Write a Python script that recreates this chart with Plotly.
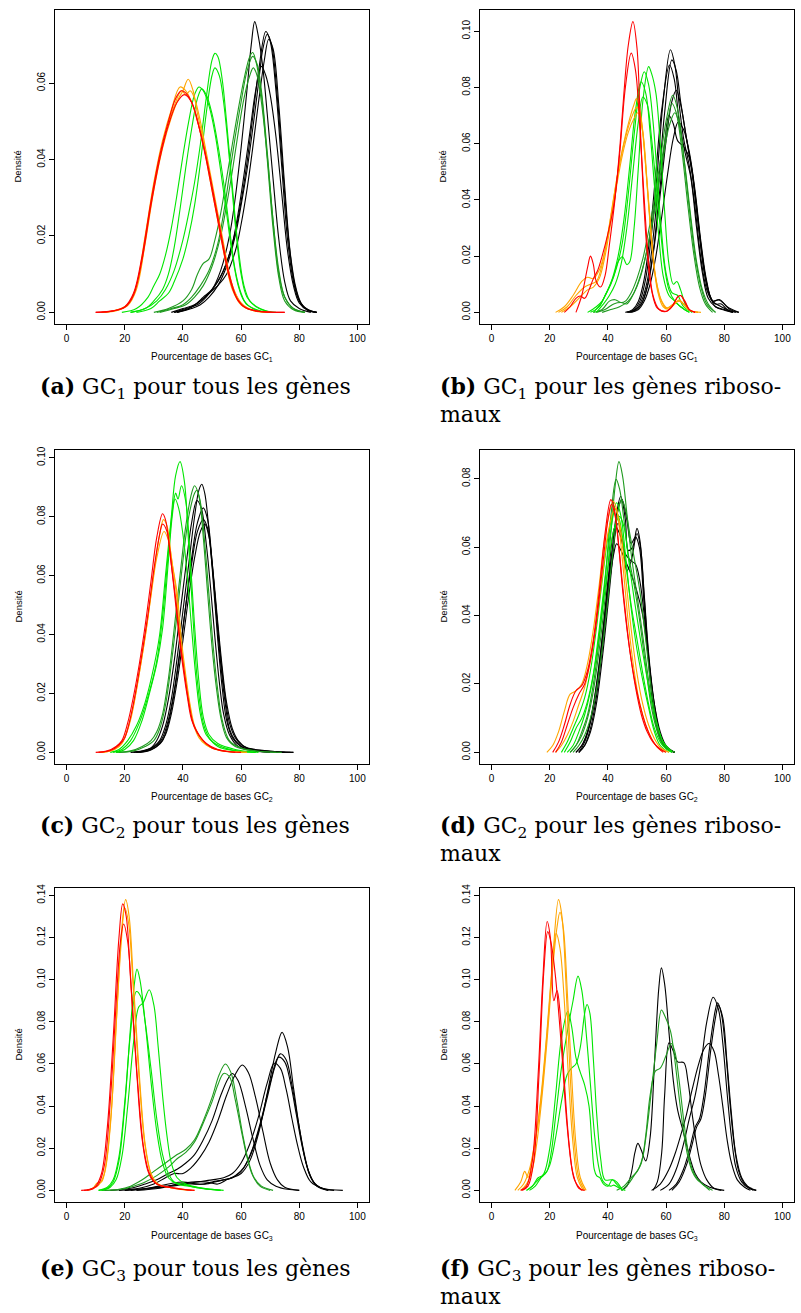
import plotly.graph_objects as go

# density curves, as (x, density) key points
# panel (a) GC1, all genes
A_BLACK = [
    [(36, 0), (40, 0.001), (44, 0.002), (47, 0.004), (50, 0.006), (53, 0.011), (56, 0.020), (58, 0.030), (60, 0.043), (62, 0.058), (63.5, 0.070), (64.7, 0.0761), (66, 0.072), (67.5, 0.064), (69, 0.052), (71, 0.035), (73, 0.019), (75, 0.008), (77, 0.003), (80, 0.001), (84, 0)],
    [(38, 0), (42, 0.001), (46, 0.003), (49, 0.005), (52, 0.008), (55, 0.013), (58, 0.021), (60, 0.029), (62, 0.039), (64, 0.051), (66, 0.063), (68.5, 0.0735), (70, 0.071), (72, 0.058), (74, 0.038), (76, 0.019), (78, 0.008), (80, 0.003), (83, 0.0006), (86, 0)],
    [(38, 0), (43, 0.001), (46, 0.002), (49, 0.004), (52, 0.007), (55, 0.012), (58, 0.020), (60, 0.028), (62, 0.037), (64, 0.048), (66, 0.060), (67.5, 0.069), (69, 0.0728), (70.5, 0.070), (72.5, 0.056), (74.5, 0.036), (76.5, 0.018), (78.5, 0.007), (80.5, 0.0025), (83, 0.0006), (86, 0)],
    [(37, 0), (42, 0.001), (46, 0.003), (49, 0.005), (52, 0.007), (55, 0.010), (58, 0.016), (60, 0.023), (62, 0.032), (64, 0.043), (66, 0.055), (68, 0.066), (69.5, 0.0715), (71, 0.069), (73, 0.054), (75, 0.033), (77, 0.015), (79, 0.006), (81, 0.002), (84, 0.0004), (86, 0)],
    [(37, 0), (41, 0.001), (45, 0.002), (48, 0.004), (51, 0.007), (54, 0.011), (57, 0.018), (59, 0.026), (61, 0.036), (63, 0.047), (65, 0.058), (67, 0.0644), (68.5, 0.062), (70, 0.057), (72, 0.046), (74, 0.031), (76, 0.016), (78, 0.007), (80, 0.0025), (83, 0.0005), (86, 0)],
]
A_DKGREEN = [
    [(30, 0), (35, 0.001), (40, 0.003), (43, 0.006), (45, 0.010), (47, 0.0128), (49, 0.014), (51, 0.019), (53, 0.026), (55, 0.035), (57, 0.044), (59, 0.053), (61, 0.061), (63, 0.067), (64, 0.068), (65, 0.066), (67, 0.057), (69, 0.040), (71, 0.022), (73, 0.009), (75, 0.003), (78, 0.0007), (82, 0)],
    [(31, 0), (36, 0.001), (40, 0.002), (43, 0.004), (46, 0.007), (49, 0.011), (52, 0.018), (54, 0.026), (56, 0.036), (58, 0.046), (60, 0.055), (62, 0.063), (64, 0.067), (65.5, 0.065), (67, 0.058), (69, 0.042), (71, 0.024), (73, 0.010), (75, 0.004), (78, 0.001), (82, 0)],
    [(32, 0), (37, 0.001), (41, 0.002), (44, 0.004), (47, 0.007), (50, 0.012), (53, 0.020), (55, 0.028), (57, 0.037), (59, 0.047), (61, 0.056), (63, 0.062), (64.2, 0.064), (65.5, 0.062), (67, 0.055), (69, 0.041), (71, 0.024), (73, 0.011), (75, 0.004), (78, 0.001), (82, 0)],
]
A_LIME = [
    [(19, 0), (24, 0.001), (28, 0.004), (30, 0.007), (32, 0.010), (34, 0.015), (36, 0.022), (38, 0.031), (40, 0.041), (42, 0.050), (44, 0.057), (45.5, 0.059), (47, 0.058), (49, 0.054), (51, 0.047), (53, 0.037), (55, 0.026), (57, 0.015), (59, 0.007), (61, 0.003), (64, 0.001), (68, 0)],
    [(22, 0), (27, 0.001), (30, 0.003), (33, 0.006), (35, 0.010), (37, 0.017), (39, 0.027), (41, 0.038), (43, 0.048), (45, 0.056), (46.5, 0.0585), (48, 0.057), (50, 0.052), (52, 0.044), (54, 0.034), (56, 0.022), (58, 0.011), (60, 0.005), (62, 0.002), (65, 0.0008), (69, 0)],
    [(22, 0), (27, 0.001), (31, 0.003), (34, 0.006), (37, 0.011), (40, 0.019), (42, 0.026), (44, 0.034), (46, 0.044), (48, 0.056), (50, 0.066), (51, 0.0678), (52, 0.067), (53.5, 0.061), (55, 0.050), (57, 0.033), (59, 0.017), (61, 0.007), (63, 0.003), (66, 0.0012), (70, 0)],
    [(24, 0), (29, 0.001), (32, 0.003), (35, 0.005), (37, 0.008), (40, 0.014), (42, 0.020), (44, 0.028), (46, 0.039), (48, 0.052), (50, 0.062), (51, 0.064), (52.5, 0.062), (54, 0.055), (56, 0.040), (58, 0.023), (60, 0.010), (62, 0.004), (65, 0.0015), (68, 0.0005), (72, 0)],
]
A_ORANGE = [
    [(12, 0), (17, 0.0006), (21, 0.002), (24, 0.007), (27, 0.020), (30, 0.034), (33, 0.045), (36, 0.053), (39, 0.059), (41, 0.058), (43, 0.055), (45, 0.050), (47, 0.044), (49, 0.036), (51, 0.028), (53, 0.020), (55, 0.012), (57, 0.006), (60, 0.002), (64, 0.0005), (70, 0)],
    [(12, 0), (17, 0.0005), (21, 0.0018), (24, 0.006), (27, 0.018), (30, 0.032), (33, 0.043), (36, 0.051), (38.5, 0.056), (40, 0.058), (41.8, 0.061), (43.5, 0.058), (45, 0.052), (47, 0.045), (49, 0.037), (51, 0.029), (53, 0.021), (55, 0.013), (57, 0.007), (60, 0.0025), (64, 0.0006), (70, 0)],
    [(13, 0), (18, 0.0006), (22, 0.003), (25, 0.010), (28, 0.024), (31, 0.037), (34, 0.047), (37, 0.054), (39.5, 0.058), (41, 0.057), (42.5, 0.058), (44, 0.056), (46, 0.050), (48, 0.042), (50, 0.034), (52, 0.026), (54, 0.018), (56, 0.010), (58, 0.005), (61, 0.0015), (65, 0.0003), (69, 0)],
]
A_RED = [
    [(10, 0), (16, 0.0004), (20, 0.0015), (23, 0.005), (26, 0.015), (29, 0.029), (32, 0.041), (35, 0.050), (37.5, 0.056), (39.5, 0.058), (41.5, 0.057), (44, 0.053), (46, 0.047), (48, 0.040), (50, 0.032), (52, 0.024), (54, 0.016), (56, 0.009), (58, 0.0045), (61, 0.0015), (66, 0.0003), (75, 0)],
    [(10, 0), (16, 0.0004), (20, 0.0013), (23, 0.0045), (26, 0.014), (29, 0.028), (32, 0.040), (35, 0.049), (38, 0.055), (40.5, 0.057), (43, 0.055), (45, 0.050), (47, 0.044), (49, 0.037), (51, 0.029), (53, 0.021), (55, 0.013), (57, 0.007), (59, 0.003), (62, 0.001), (67, 0.0002), (75, 0)],
]

# panel (b) GC1, ribosomal genes
B_BLACK = [
    [(46.5, 0), (49, 0.001), (51, 0.004), (53, 0.012), (55, 0.028), (57, 0.050), (59, 0.075), (61.5, 0.0934), (63, 0.088), (64.5, 0.074), (66, 0.062), (68, 0.052), (70, 0.037), (72, 0.019), (74, 0.008), (76, 0.004), (78, 0.0045), (80, 0.003), (82, 0.001), (85, 0)],
    [(47, 0), (49.5, 0.001), (51.5, 0.004), (53.5, 0.011), (55.5, 0.026), (57.5, 0.047), (59.5, 0.071), (62, 0.0898), (63.5, 0.086), (65, 0.075), (67, 0.062), (69, 0.050), (71, 0.032), (73, 0.015), (75, 0.006), (77, 0.003), (79, 0.003), (81, 0.001), (84, 0)],
    [(46, 0), (48.5, 0.001), (50.5, 0.004), (52.5, 0.012), (54.5, 0.028), (56.5, 0.050), (58.5, 0.072), (61.2, 0.088), (62.8, 0.083), (64.5, 0.068), (66.5, 0.057), (68.5, 0.048), (70.5, 0.030), (72.5, 0.014), (74.5, 0.005), (77, 0.002), (80, 0.001), (83, 0)],
    [(47, 0), (49.5, 0.001), (51.5, 0.003), (53.5, 0.009), (55.5, 0.021), (57.5, 0.040), (59.5, 0.060), (61, 0.070), (62.5, 0.067), (64, 0.061), (66, 0.059), (68, 0.055), (70, 0.042), (72, 0.024), (74, 0.010), (76, 0.004), (78, 0.0025), (80, 0.0015), (83, 0)],
    [(48, 0), (50.5, 0.001), (52.5, 0.004), (54.5, 0.010), (56.5, 0.020), (58.5, 0.034), (60.5, 0.049), (62.5, 0.062), (64.2, 0.0677), (66, 0.065), (68, 0.057), (70, 0.043), (72, 0.025), (74, 0.011), (76, 0.004), (78.5, 0.0045), (81, 0.002), (85, 0)],
    [(47.5, 0), (50, 0.001), (52, 0.004), (54, 0.011), (56, 0.024), (58, 0.042), (60, 0.061), (62, 0.075), (63.5, 0.079), (65, 0.074), (67, 0.062), (69, 0.049), (71, 0.032), (73, 0.016), (75, 0.006), (77, 0.002), (80, 0.0008), (83, 0)],
]
B_DKGREEN = [
    [(35, 0), (38, 0.001), (40.5, 0.004), (42.5, 0.0045), (44.5, 0.0035), (46, 0.004), (48, 0.007), (50, 0.012), (52, 0.019), (54, 0.029), (56, 0.040), (58, 0.054), (60, 0.068), (62.3, 0.0772), (64, 0.072), (66, 0.056), (68, 0.037), (70, 0.020), (72, 0.009), (74, 0.003), (77, 0)],
    [(36, 0), (39, 0.001), (42, 0.003), (44.5, 0.0035), (46.5, 0.003), (48.5, 0.006), (50.5, 0.011), (52.5, 0.018), (54.5, 0.028), (56.5, 0.040), (58.5, 0.054), (60.5, 0.067), (62, 0.0743), (63.5, 0.071), (65.5, 0.057), (67.5, 0.038), (69.5, 0.021), (71.5, 0.009), (73.5, 0.003), (76, 0)],
    [(38, 0), (41, 0.001), (44, 0.002), (47, 0.004), (49, 0.007), (51, 0.012), (53, 0.020), (55, 0.030), (57, 0.042), (59, 0.055), (61, 0.066), (63, 0.071), (64.5, 0.067), (66.5, 0.052), (68.5, 0.034), (70.5, 0.018), (72.5, 0.008), (74.5, 0.003), (77, 0)],
]
B_LIME = [
    [(33, 0), (36, 0.002), (38, 0.004), (40, 0.008), (42, 0.013), (43.5, 0.018), (45, 0.0198), (46.5, 0.017), (47.5, 0.018), (49, 0.030), (50.5, 0.052), (52, 0.075), (54, 0.0874), (55, 0.085), (56.5, 0.078), (58, 0.060), (59.5, 0.036), (61, 0.017), (62.5, 0.010), (63.7, 0.011), (65, 0.008), (67, 0.002), (69, 0)],
    [(34, 0), (37, 0.002), (39, 0.006), (41, 0.010), (43, 0.016), (45, 0.025), (47, 0.042), (49, 0.063), (51, 0.080), (52.5, 0.0856), (54, 0.081), (55.5, 0.068), (57, 0.048), (58.5, 0.028), (60, 0.014), (62, 0.007), (64, 0.006), (66, 0.002), (69, 0)],
    [(35, 0), (37.5, 0.003), (39.5, 0.007), (41.5, 0.012), (43.5, 0.020), (45.5, 0.033), (47.5, 0.052), (49.5, 0.072), (51.4, 0.082), (53, 0.078), (54.5, 0.064), (56, 0.045), (57.5, 0.027), (59, 0.013), (61, 0.006), (63, 0.004), (65, 0.002), (68, 0)],
    [(36, 0), (38.5, 0.003), (40.5, 0.006), (42.5, 0.010), (44.5, 0.017), (46.5, 0.030), (48.5, 0.049), (50.5, 0.068), (52, 0.0766), (53.5, 0.074), (55, 0.062), (56.5, 0.046), (58, 0.030), (59.5, 0.016), (61, 0.008), (63, 0.004), (65, 0.002), (68, 0)],
]
B_ORANGE = [
    [(22, 0), (25, 0.002), (28, 0.006), (31, 0.011), (33, 0.0125), (35, 0.012), (37, 0.015), (39, 0.022), (41, 0.034), (43, 0.047), (45, 0.058), (47, 0.067), (49, 0.074), (49.8, 0.076), (51, 0.072), (52.5, 0.058), (54, 0.038), (55.5, 0.020), (57, 0.008), (59, 0.002), (61, 0.0012), (63, 0.003), (64.5, 0.0045), (66, 0.003), (68, 0.0008), (71, 0)],
    [(23, 0), (26, 0.002), (29, 0.006), (32, 0.009), (34, 0.010), (36, 0.011), (38, 0.017), (40, 0.028), (42, 0.041), (44, 0.053), (46, 0.062), (48, 0.069), (50, 0.073), (51.5, 0.068), (53, 0.052), (54.5, 0.032), (56, 0.015), (58, 0.005), (60, 0.0015), (62, 0.0025), (64.5, 0.004), (66, 0.0028), (68, 0.0008), (71, 0)],
    [(24, 0), (27, 0.002), (30, 0.005), (33, 0.008), (35, 0.009), (37, 0.012), (39, 0.020), (41, 0.032), (43, 0.045), (45, 0.056), (47, 0.064), (49, 0.069), (50.3, 0.071), (52, 0.064), (53.5, 0.046), (55, 0.027), (56.5, 0.012), (58.5, 0.004), (60.5, 0.0015), (62.5, 0.003), (64.5, 0.0042), (66, 0.003), (68, 0.0008), (72, 0)],
]
B_RED = [
    [(29, 0), (31, 0.006), (33, 0.016), (34, 0.020), (35, 0.017), (36, 0.011), (37.5, 0.009), (39, 0.013), (40.5, 0.024), (42.4, 0.040), (44.2, 0.060), (45.5, 0.078), (47, 0.095), (48.6, 0.1034), (50, 0.094), (51.3, 0.062), (52.5, 0.036), (53.6, 0.020), (55, 0.008), (57, 0.0015), (60, 0.0003), (62, 0.002), (64, 0.0055), (65, 0.006), (66.5, 0.004), (68, 0.001), (70, 0)],
    [(25, 0), (27, 0.002), (29, 0.005), (30.5, 0.0058), (32, 0.005), (33.5, 0.008), (35, 0.012), (36.5, 0.015), (38, 0.020), (40, 0.028), (42, 0.038), (44, 0.056), (46, 0.080), (48, 0.0922), (49.5, 0.086), (51, 0.065), (52.5, 0.040), (54, 0.018), (55.5, 0.006), (57.5, 0.0012), (60, 0.0004), (62, 0.002), (64, 0.0055), (65, 0.006), (66.5, 0.0035), (68, 0.001), (70, 0)],
]

# panel (c) GC2, all genes
C_BLACK = [
    [(23, 0), (27, 0.0006), (30, 0.002), (32, 0.004), (34, 0.009), (36, 0.018), (38, 0.032), (40, 0.048), (42, 0.064), (44, 0.080), (45.5, 0.089), (46.5, 0.091), (47.5, 0.088), (49, 0.075), (50.5, 0.057), (52, 0.038), (53.5, 0.022), (55, 0.011), (57, 0.005), (60, 0.002), (65, 0.0006), (72, 0.0002), (78, 0)],
    [(22, 0), (26, 0.0005), (29, 0.0015), (31, 0.004), (33, 0.009), (35, 0.018), (37, 0.031), (39, 0.047), (41, 0.063), (43, 0.078), (44.8, 0.0855), (46.3, 0.083), (48, 0.071), (49.5, 0.056), (51, 0.039), (52.5, 0.024), (54, 0.013), (56, 0.006), (59, 0.002), (64, 0.0006), (70, 0)],
    [(24, 0), (28, 0.0006), (31, 0.002), (33, 0.004), (35, 0.010), (37, 0.020), (39, 0.034), (41, 0.050), (43, 0.066), (45, 0.078), (47, 0.083), (48.5, 0.079), (50, 0.065), (51.5, 0.047), (53, 0.030), (54.5, 0.017), (56, 0.008), (58, 0.004), (61, 0.0015), (67, 0.0005), (75, 0)],
    [(24, 0), (28, 0.0008), (31, 0.0025), (33, 0.005), (35, 0.011), (37, 0.021), (39, 0.035), (41, 0.050), (43, 0.064), (45, 0.075), (47, 0.079), (48.5, 0.076), (50, 0.064), (51.5, 0.048), (53, 0.032), (54.5, 0.019), (56, 0.010), (58, 0.005), (61, 0.002), (68, 0.0006), (77, 0)],
    [(25, 0), (29, 0.0008), (32, 0.003), (34, 0.006), (36, 0.013), (38, 0.024), (40, 0.038), (42, 0.053), (44, 0.066), (46, 0.075), (47.5, 0.0775), (49, 0.073), (50.5, 0.060), (52, 0.044), (53.5, 0.029), (55, 0.017), (57, 0.008), (59, 0.004), (62, 0.0015), (70, 0.0004), (78, 0)],
]
C_DKGREEN = [
    [(17, 0), (22, 0.0005), (26, 0.002), (29, 0.004), (31, 0.007), (33, 0.013), (35, 0.025), (37, 0.042), (39, 0.060), (41, 0.077), (43, 0.088), (44, 0.0905), (45.5, 0.087), (47, 0.073), (48.5, 0.054), (50, 0.036), (51.5, 0.022), (53, 0.012), (55, 0.005), (58, 0.002), (64, 0.0006), (72, 0)],
    [(18, 0), (23, 0.0005), (27, 0.002), (30, 0.004), (32, 0.008), (34, 0.016), (36, 0.030), (38, 0.047), (40, 0.065), (42, 0.080), (44, 0.088), (44.8, 0.089), (46, 0.085), (47.5, 0.071), (49, 0.053), (50.5, 0.035), (52, 0.021), (53.5, 0.011), (56, 0.004), (60, 0.0015), (66, 0.0004), (74, 0)],
]
C_LIME = [
    [(15, 0), (18, 0.001), (21, 0.004), (24, 0.009), (27, 0.017), (30, 0.029), (32, 0.040), (34, 0.060), (36, 0.080), (37.5, 0.094), (39, 0.0987), (40.5, 0.092), (42, 0.070), (43.5, 0.045), (45, 0.024), (47, 0.010), (49, 0.005), (52, 0.002), (58, 0.0005), (65, 0)],
    [(16, 0), (19, 0.001), (22, 0.004), (25, 0.010), (28, 0.019), (31, 0.031), (33, 0.046), (35, 0.068), (36.5, 0.083), (37.5, 0.088), (38.3, 0.086), (39.5, 0.0905), (41, 0.085), (42.5, 0.066), (44, 0.043), (45.5, 0.024), (47, 0.012), (49, 0.006), (52, 0.003), (58, 0.001), (66, 0)],
    [(17, 0), (20, 0.001), (23, 0.004), (26, 0.011), (29, 0.022), (31, 0.030), (33, 0.042), (35, 0.065), (36.3, 0.080), (37.3, 0.086), (38.5, 0.083), (40, 0.074), (41.5, 0.060), (43, 0.042), (44.5, 0.025), (46, 0.013), (48, 0.006), (51, 0.003), (57, 0.0008), (65, 0)],
]
C_ORANGE = [
    [(11, 0), (15, 0.0005), (18, 0.002), (20, 0.005), (22, 0.011), (24, 0.021), (26, 0.033), (28, 0.046), (30, 0.061), (32, 0.074), (33.3, 0.079), (34.5, 0.077), (36, 0.066), (37.5, 0.056), (39, 0.040), (40.5, 0.028), (42, 0.018), (43.5, 0.010), (45.5, 0.005), (48, 0.0025), (53, 0.0006), (62, 0)],
    [(12, 0), (16, 0.0008), (19, 0.003), (21, 0.008), (23, 0.016), (25, 0.027), (27, 0.039), (29, 0.053), (31, 0.066), (33.5, 0.075), (35, 0.072), (36.5, 0.063), (38, 0.054), (39.5, 0.038), (41, 0.026), (42.5, 0.016), (44, 0.009), (46, 0.005), (49, 0.002), (54, 0.0005), (62, 0)],
]
C_RED = [
    [(10, 0), (14, 0.0005), (17, 0.002), (19, 0.004), (21, 0.010), (23, 0.019), (25, 0.030), (27, 0.043), (29, 0.058), (31, 0.073), (33, 0.081), (34, 0.079), (35.5, 0.068), (37, 0.055), (38.5, 0.041), (40, 0.029), (41.5, 0.019), (43, 0.011), (45, 0.0065), (47, 0.004), (50, 0.0015), (55, 0.0003), (60, 0)],
    [(11, 0), (15, 0.0006), (18, 0.0025), (20, 0.005), (22, 0.012), (24, 0.022), (26, 0.034), (28, 0.047), (30, 0.062), (32, 0.074), (33, 0.0775), (34.5, 0.075), (36, 0.064), (37.5, 0.052), (39, 0.038), (40.5, 0.027), (42, 0.017), (43.5, 0.010), (45.5, 0.006), (48, 0.003), (52, 0.001), (58, 0)],
]

# panel (d) GC2, ribosomal genes
D_BLACK = [
    [(29, 0), (31, 0.002), (33, 0.006), (35, 0.013), (37, 0.024), (39, 0.038), (41, 0.055), (43, 0.070), (44.4, 0.0749), (46, 0.068), (47, 0.059), (48.5, 0.060), (50, 0.0655), (51, 0.062), (52.5, 0.045), (54, 0.028), (56, 0.013), (58, 0.005), (60, 0.0015), (63, 0)],
    [(29, 0), (31, 0.002), (33, 0.006), (35, 0.014), (37, 0.026), (39, 0.041), (41, 0.056), (43.5, 0.067), (45, 0.062), (46.5, 0.053), (48, 0.056), (50, 0.064), (51.2, 0.060), (52.5, 0.046), (54, 0.029), (56, 0.014), (58, 0.005), (60, 0.0015), (63, 0)],
    [(30, 0), (32, 0.003), (34, 0.009), (36, 0.019), (38, 0.033), (40, 0.050), (42.5, 0.066), (44, 0.064), (46, 0.058), (48, 0.056), (49.5, 0.055), (51, 0.050), (52.5, 0.040), (54, 0.027), (56, 0.013), (58, 0.005), (60, 0.0015), (63, 0)],
    [(30, 0), (32, 0.002), (34, 0.006), (36, 0.014), (38, 0.027), (40, 0.043), (42, 0.060), (43.5, 0.071), (44.8, 0.074), (46.5, 0.068), (48, 0.061), (49.5, 0.063), (50.8, 0.060), (52.2, 0.046), (53.7, 0.029), (55.5, 0.014), (57.5, 0.005), (60, 0.0012), (63, 0)],
    [(30, 0), (32, 0.002), (34, 0.007), (36, 0.016), (38, 0.030), (40, 0.046), (42, 0.058), (43, 0.061), (44.5, 0.059), (46, 0.056), (48, 0.052), (50, 0.047), (52, 0.040), (54, 0.027), (56, 0.014), (58, 0.006), (60, 0.002), (63, 0)],
]
D_DKGREEN = [
    [(27, 0), (29, 0.002), (31, 0.005), (33, 0.010), (35, 0.018), (37, 0.030), (39, 0.045), (41, 0.064), (42.5, 0.078), (43.8, 0.085), (45, 0.081), (46.5, 0.070), (48, 0.058), (50, 0.046), (52, 0.034), (54, 0.021), (56, 0.010), (58, 0.004), (60, 0.0015), (63, 0)],
    [(27, 0), (29, 0.002), (31, 0.006), (33, 0.011), (35, 0.020), (37, 0.033), (39, 0.050), (41, 0.069), (42.8, 0.0798), (44, 0.077), (45.5, 0.068), (47, 0.058), (49, 0.049), (51, 0.038), (53, 0.025), (55, 0.013), (57, 0.006), (59, 0.002), (62, 0)],
    [(28, 0), (30, 0.002), (32, 0.005), (34, 0.010), (36, 0.018), (38, 0.030), (40, 0.045), (42, 0.061), (43.5, 0.071), (44.7, 0.0739), (46, 0.071), (47.5, 0.064), (49, 0.057), (51, 0.047), (53, 0.033), (55, 0.018), (57, 0.008), (59, 0.003), (61, 0.001), (63, 0)],
]
D_LIME = [
    [(24, 0), (26, 0.003), (28, 0.007), (30, 0.011), (32, 0.016), (34, 0.024), (36, 0.036), (38, 0.050), (40, 0.063), (42, 0.071), (43, 0.073), (44.5, 0.069), (46, 0.058), (48, 0.042), (50, 0.030), (52, 0.021), (54, 0.013), (56, 0.006), (58, 0.002), (61, 0)],
    [(25, 0), (27, 0.003), (29, 0.007), (31, 0.010), (33, 0.015), (35, 0.023), (37, 0.036), (39, 0.051), (41, 0.065), (42.5, 0.071), (44, 0.068), (46, 0.056), (48, 0.043), (50, 0.033), (52, 0.023), (54, 0.014), (56, 0.007), (58, 0.003), (60, 0.001), (62, 0)],
    [(26, 0), (28, 0.002), (30, 0.006), (32, 0.011), (34, 0.018), (36, 0.028), (38, 0.041), (40, 0.054), (42, 0.065), (44, 0.069), (45.5, 0.066), (47, 0.057), (49, 0.045), (51, 0.034), (53, 0.024), (55, 0.015), (57, 0.008), (59, 0.003), (61, 0.001), (62, 0)],
]
D_ORANGE = [
    [(19, 0), (21, 0.002), (23, 0.006), (25, 0.012), (27, 0.017), (29, 0.018), (31, 0.020), (33, 0.026), (35, 0.036), (37, 0.049), (39, 0.063), (41.8, 0.0734), (43, 0.071), (45, 0.056), (47, 0.038), (49, 0.024), (51, 0.014), (53, 0.008), (55, 0.004), (57, 0.0015), (60, 0)],
    [(22, 0), (24, 0.002), (26, 0.005), (28, 0.009), (30, 0.014), (32, 0.019), (34, 0.027), (36, 0.038), (38, 0.051), (40, 0.064), (42.4, 0.0714), (44, 0.067), (46, 0.052), (48, 0.036), (50, 0.023), (52, 0.014), (54, 0.008), (56, 0.004), (58, 0.0015), (61, 0)],
]
D_RED = [
    [(21, 0), (23, 0.003), (25, 0.008), (27, 0.014), (29, 0.018), (31, 0.0195), (33, 0.024), (35, 0.033), (37, 0.047), (39, 0.064), (41, 0.0739), (42, 0.072), (43.5, 0.062), (45, 0.048), (47, 0.033), (49, 0.022), (51, 0.014), (53, 0.008), (55, 0.004), (57, 0.0015), (59, 0)],
    [(22, 0), (24, 0.003), (26, 0.008), (28, 0.013), (30, 0.017), (32, 0.020), (34, 0.027), (36, 0.038), (38, 0.053), (40, 0.068), (41.2, 0.0725), (42.5, 0.069), (44, 0.058), (45.5, 0.045), (47.5, 0.030), (49.5, 0.019), (51.5, 0.011), (53.5, 0.006), (55.5, 0.003), (58, 0.001), (60, 0)],
]

# panel (e) GC3, all genes
E_BLACK = [
    [(15, 0), (22, 0.001), (27, 0.003), (31, 0.005), (35, 0.008), (38, 0.010), (41, 0.013), (44, 0.017), (47, 0.024), (50, 0.033), (53, 0.045), (55.5, 0.053), (57, 0.0555), (59, 0.052), (61.5, 0.040), (64, 0.025), (66.5, 0.012), (69, 0.005), (72, 0.002), (76, 0.0005), (80, 0)],
    [(18, 0), (25, 0.001), (30, 0.003), (34, 0.006), (37, 0.008), (40, 0.008), (43, 0.011), (46, 0.016), (49, 0.023), (52, 0.033), (55, 0.045), (58, 0.055), (60.4, 0.0595), (62.5, 0.056), (65, 0.044), (67.5, 0.028), (70, 0.013), (72.5, 0.005), (75, 0.0015), (80, 0)],
    [(20, 0), (28, 0.001), (35, 0.003), (40, 0.004), (45, 0.003), (48, 0.003), (51, 0.004), (54, 0.005), (57, 0.006), (60, 0.008), (63, 0.014), (66, 0.027), (69, 0.046), (72, 0.066), (74.1, 0.075), (76, 0.068), (78, 0.049), (80, 0.030), (82, 0.015), (84, 0.006), (87, 0.0015), (92, 0)],
    [(22, 0), (30, 0.001), (36, 0.002), (42, 0.003), (47, 0.003), (50, 0.004), (54, 0.005), (57, 0.006), (60, 0.009), (63, 0.016), (66, 0.028), (69, 0.044), (71.5, 0.058), (73.5, 0.0648), (75.5, 0.062), (77.5, 0.050), (79.5, 0.034), (81.5, 0.019), (83.5, 0.008), (86, 0.002), (90, 0)],
    [(24, 0), (32, 0.001), (38, 0.003), (43, 0.004), (48, 0.004), (52, 0.003), (55, 0.005), (58, 0.007), (61, 0.011), (64, 0.020), (67, 0.034), (70, 0.051), (72.9, 0.0632), (75, 0.061), (77, 0.051), (79, 0.036), (81, 0.021), (83, 0.010), (85.5, 0.003), (90, 0)],
    [(20, 0), (28, 0.001), (34, 0.002), (40, 0.003), (45, 0.004), (50, 0.005), (54, 0.006), (57, 0.008), (60, 0.013), (63, 0.022), (66, 0.035), (69, 0.051), (71.4, 0.0603), (73.5, 0.058), (75.5, 0.048), (77.5, 0.034), (79.5, 0.021), (81.5, 0.011), (84, 0.004), (88, 0.001), (95, 0)],
]
E_DKGREEN = [
    [(12, 0), (18, 0.0005), (22, 0.002), (26, 0.005), (30, 0.009), (34, 0.013), (38, 0.017), (41, 0.0195), (44, 0.024), (47, 0.033), (50, 0.044), (52.5, 0.055), (54.6, 0.060), (56.5, 0.056), (58.5, 0.043), (60.5, 0.027), (62.5, 0.014), (64.5, 0.006), (67, 0.002), (71, 0)],
    [(13, 0), (19, 0.0005), (23, 0.002), (27, 0.004), (31, 0.007), (35, 0.011), (38, 0.015), (41, 0.018), (44, 0.023), (47, 0.032), (50, 0.042), (52, 0.050), (54, 0.0555), (56, 0.054), (58, 0.043), (60, 0.029), (62, 0.016), (64, 0.007), (66.5, 0.002), (70, 0)],
]
E_LIME = [
    [(11, 0), (14, 0.001), (16, 0.004), (18, 0.014), (20, 0.040), (22, 0.078), (23.3, 0.098), (24.2, 0.105), (25.2, 0.100), (27, 0.080), (29, 0.052), (31, 0.028), (33, 0.013), (35, 0.006), (38, 0.003), (42, 0.002), (47, 0.0008), (53, 0)],
    [(11, 0), (14, 0.0015), (16, 0.005), (18, 0.016), (20, 0.042), (22, 0.075), (24, 0.0944), (25.5, 0.092), (27, 0.080), (29, 0.058), (31, 0.034), (33, 0.017), (35, 0.008), (37, 0.004), (40, 0.003), (44, 0.0015), (50, 0.0005), (54, 0)],
    [(12, 0), (15, 0.0015), (17, 0.005), (19, 0.016), (21, 0.040), (23, 0.070), (24.8, 0.087), (26.3, 0.089), (28.4, 0.0952), (30, 0.088), (31.5, 0.068), (33, 0.045), (34.5, 0.026), (36, 0.013), (38, 0.006), (41, 0.003), (46, 0.0012), (53, 0)],
]
E_ORANGE = [
    [(7, 0), (9, 0.001), (10.5, 0.0035), (12, 0.004), (13.5, 0.012), (15.5, 0.040), (17.5, 0.090), (19, 0.125), (20.3, 0.138), (21.5, 0.130), (23, 0.098), (25, 0.055), (27, 0.022), (29, 0.008), (31, 0.003), (35, 0.0015), (40, 0.0005), (44, 0)],
    [(7, 0), (9, 0.001), (11, 0.0025), (13, 0.008), (15, 0.030), (17, 0.078), (18.8, 0.118), (20, 0.134), (21.3, 0.127), (23, 0.094), (25, 0.052), (27, 0.021), (29, 0.008), (31.5, 0.003), (36, 0.0012), (42, 0)],
]
E_RED = [
    [(5, 0), (8, 0.0005), (10, 0.002), (12, 0.008), (14, 0.030), (16, 0.072), (18, 0.120), (19.3, 0.136), (20.5, 0.130), (22, 0.100), (24, 0.058), (26, 0.024), (28, 0.009), (30, 0.004), (33, 0.002), (36, 0.0015), (40, 0.0005), (43, 0)],
    [(6, 0), (9, 0.0006), (11, 0.003), (13, 0.012), (15, 0.042), (17, 0.088), (18.5, 0.118), (19.6, 0.1264), (21, 0.118), (22.5, 0.090), (24.5, 0.050), (26.5, 0.020), (28.5, 0.008), (31, 0.003), (35, 0.0015), (40, 0.0004), (44, 0)],
]

# panel (f) GC3, ribosomal genes
F_BLACK = [
    [(44.7, 0), (46.5, 0.002), (48, 0.008), (49.3, 0.018), (50.3, 0.0223), (51.5, 0.019), (53, 0.014), (54.5, 0.025), (56, 0.060), (57.5, 0.096), (58.4, 0.1056), (59.5, 0.098), (61, 0.075), (62.5, 0.052), (64, 0.038), (65.5, 0.030), (67, 0.022), (68.5, 0.014), (70, 0.008), (72, 0.004), (75, 0.0015), (80, 0)],
    [(55.5, 0), (57, 0.004), (58.5, 0.018), (59.5, 0.045), (61, 0.070), (62.5, 0.066), (64, 0.061), (66.1, 0.0606), (67.5, 0.052), (69, 0.036), (70.5, 0.022), (72, 0.012), (74, 0.005), (76.5, 0.001), (79, 0)],
    [(55, 0), (58, 0.003), (61, 0.010), (63, 0.017), (65, 0.026), (67, 0.036), (69, 0.048), (71, 0.059), (73, 0.067), (74.8, 0.0697), (76.5, 0.066), (78, 0.055), (79.5, 0.040), (81, 0.024), (82.5, 0.013), (84.5, 0.005), (87, 0.0015), (89, 0)],
    [(58, 0), (61, 0.003), (63.5, 0.010), (66, 0.022), (68, 0.034), (70, 0.045), (72, 0.060), (74, 0.080), (76.2, 0.0917), (78, 0.086), (79.5, 0.070), (81, 0.046), (82.5, 0.025), (84, 0.011), (86, 0.004), (88.5, 0.001), (91, 0)],
    [(61, 0), (63.5, 0.003), (66, 0.010), (68, 0.019), (70, 0.030), (71.5, 0.034), (73, 0.045), (75, 0.068), (77, 0.086), (77.7, 0.089), (79, 0.084), (80.5, 0.066), (82, 0.041), (83.5, 0.021), (85, 0.009), (87, 0.003), (89.5, 0.0008), (91, 0)],
    [(62, 0), (64.5, 0.004), (67, 0.012), (69, 0.022), (70.5, 0.030), (72, 0.034), (73.5, 0.045), (75.5, 0.068), (77, 0.082), (78, 0.0877), (79.5, 0.082), (81, 0.060), (82.5, 0.036), (84, 0.017), (86, 0.006), (88, 0.002), (90, 0)],
]
F_DKGREEN = [
    [(44.7, 0), (47, 0.003), (49, 0.007), (50.5, 0.010), (52, 0.016), (53.5, 0.030), (55, 0.048), (56.8, 0.070), (58.4, 0.0856), (59.5, 0.083), (61.5, 0.0757), (63, 0.062), (64.5, 0.044), (66, 0.028), (67.5, 0.016), (69, 0.009), (70.5, 0.0055), (72.5, 0.003), (75, 0)],
    [(43, 0), (45.5, 0.002), (48, 0.006), (50, 0.009), (51.5, 0.013), (53, 0.026), (54.5, 0.045), (56.3, 0.0566), (58, 0.058), (60, 0.064), (61.8, 0.0697), (63, 0.066), (64.5, 0.052), (66, 0.034), (67.5, 0.019), (69, 0.010), (70.5, 0.006), (72.5, 0.003), (76, 0)],
]
F_LIME = [
    [(12, 0), (14, 0.002), (16, 0.006), (17.5, 0.007), (19, 0.009), (20.5, 0.018), (22, 0.035), (24, 0.058), (26, 0.075), (28, 0.090), (29.7, 0.1017), (31, 0.095), (32.5, 0.075), (34, 0.050), (35.5, 0.025), (37, 0.010), (38.5, 0.004), (41, 0.002), (42, 0.0025), (44, 0.001), (46, 0)],
    [(13, 0), (15, 0.002), (17, 0.006), (18.5, 0.008), (20, 0.012), (22, 0.025), (24, 0.042), (26, 0.055), (27.5, 0.058), (29, 0.060), (30.5, 0.068), (32, 0.084), (32.8, 0.0882), (33.8, 0.084), (35, 0.062), (36.2, 0.035), (37.5, 0.015), (39, 0.005), (41.5, 0.005), (43, 0.003), (45, 0)],
    [(12, 0), (14, 0.002), (16, 0.005), (18, 0.008), (20, 0.020), (22, 0.045), (24, 0.072), (26.2, 0.085), (27.5, 0.078), (29, 0.063), (30.5, 0.056), (32, 0.050), (33.5, 0.040), (34.5, 0.022), (35.3, 0.010), (36.1, 0.007), (37.2, 0.006), (38.5, 0.003), (40, 0.002), (41.5, 0.005), (43, 0.004), (45, 0)],
]
F_ORANGE = [
    [(8, 0), (10, 0.004), (11.4, 0.009), (12.5, 0.006), (14, 0.015), (15.5, 0.028), (17, 0.045), (19, 0.075), (21, 0.110), (23, 0.138), (24.2, 0.130), (25.5, 0.100), (27, 0.055), (28.5, 0.022), (30, 0.006), (32, 0)],
    [(9, 0), (11, 0.003), (13, 0.010), (14.5, 0.020), (16, 0.032), (17.5, 0.050), (19.5, 0.082), (21, 0.108), (22.2, 0.122), (23.5, 0.115), (25, 0.090), (26.5, 0.052), (28, 0.022), (29.5, 0.006), (31.5, 0)],
    [(10, 0), (12, 0.003), (14, 0.010), (15.5, 0.022), (17, 0.040), (19, 0.070), (21, 0.105), (22.5, 0.125), (23.5, 0.132), (24.7, 0.124), (26, 0.095), (27.5, 0.055), (29, 0.022), (30.5, 0.006), (32.5, 0)],
]
F_RED = [
    [(10, 0), (12, 0.002), (14, 0.014), (16, 0.055), (17.6, 0.100), (19.1, 0.1276), (20.2, 0.120), (21.4, 0.090), (22.5, 0.0949), (23.5, 0.085), (25, 0.052), (26.8, 0.020), (28.5, 0.005), (31, 0)],
    [(10.5, 0), (12.5, 0.002), (14.5, 0.014), (16.3, 0.055), (18, 0.105), (19.3, 0.1228), (20.5, 0.117), (22, 0.101), (24, 0.068), (26, 0.030), (28, 0.008), (30, 0.001), (32, 0)],
]

PANEL_LETTERS = ["a", "b", "c", "d", "e", "f"]
X_TITLES = ["Pourcentage de bases GC<sub>1</sub>", "Pourcentage de bases GC<sub>1</sub>",
            "Pourcentage de bases GC<sub>2</sub>", "Pourcentage de bases GC<sub>2</sub>",
            "Pourcentage de bases GC<sub>3</sub>", "Pourcentage de bases GC<sub>3</sub>"]
CAPTIONS = ["GC<sub>1</sub> pour tous les gènes", "GC<sub>1</sub> pour les gènes riboso-",
            "GC<sub>2</sub> pour tous les gènes", "GC<sub>2</sub> pour les gènes riboso-",
            "GC<sub>3</sub> pour tous les gènes", "GC<sub>3</sub> pour les gènes riboso-"]
X_TICKS = [0, 20, 40, 60, 80, 100]

panels = [
    [A_BLACK, A_DKGREEN, A_LIME, A_ORANGE, A_RED],
    [B_BLACK, B_DKGREEN, B_LIME, B_ORANGE, B_RED],
    [C_BLACK, C_DKGREEN, C_LIME, C_ORANGE, C_RED],
    [D_BLACK, D_DKGREEN, D_LIME, D_ORANGE, D_RED],
    [E_BLACK, E_DKGREEN, E_LIME, E_ORANGE, E_RED],
    [F_BLACK, F_DKGREEN, F_LIME, F_ORANGE, F_RED],
]
colors = ["#000000", "#1f9a1f", "#00e600", "#ffa500", "#ff0000"]

W, H = 801, 1313
box_left = [55, 480]
box_top = [10, 450, 888]
box_size = 314
xtitle_y = [357, 797, 1236]
caption_y = [388, 827, 1270]

sans = "Liberation Sans, Arial, Helvetica, sans-serif"
serif = "DejaVu Serif, serif"

fig = go.Figure()
layout = {}
annotations = []

for i, groups in enumerate(panels):
    n = i + 1
    col, row = i % 2, i // 2
    xa = "x" if n == 1 else "x%d" % n
    ya = "y" if n == 1 else "y%d" % n
    ymax = 0
    for group, color in zip(groups, colors):
        for curve in group:
            xs = [p[0] for p in curve]
            ys = [p[1] for p in curve]
            ymax = max(ymax, max(ys))
            fig.add_trace(go.Scatter(
                x=xs, y=ys, mode="lines",
                line=dict(color=color, width=1.1, shape="spline", smoothing=1.0),
                xaxis=xa, yaxis=ya, showlegend=False, hoverinfo="skip"
            ))

    x0 = box_left[col] / W
    x1 = (box_left[col] + box_size) / W
    y1 = 1 - box_top[row] / H
    y0 = 1 - (box_top[row] + box_size) / H
    axis_common = dict(
        showline=True, linecolor="black", linewidth=1, mirror=True,
        ticks="outside", ticklen=5, tickcolor="black", tickwidth=1,
        showgrid=False, zeroline=False, automargin=False,
        tickfont=dict(family=sans, size=10, color="black"),
    )
    layout["xaxis" if n == 1 else "xaxis%d" % n] = dict(
        axis_common, domain=[x0, x1], range=[-4, 104],
        tickvals=X_TICKS, anchor=ya,
    )
    layout["yaxis" if n == 1 else "yaxis%d" % n] = dict(
        axis_common, domain=[y0, y1], range=[-0.04 * ymax, 1.04 * ymax],
        tick0=0, dtick=0.02, tickformat=".2f", tickangle=-90, anchor=xa,
    )

    # axis titles
    cx = (box_left[col] + box_size / 2) / W
    annotations.append(dict(
        text=X_TITLES[i], x=cx, y=1 - xtitle_y[row] / H, xref="paper", yref="paper",
        showarrow=False, xanchor="center", yanchor="middle",
        font=dict(family=sans, size=10, color="black")))
    annotations.append(dict(
        text="Densité", x=(box_left[col] - 37.5) / W,
        y=1 - (box_top[row] + box_size / 2) / H, xref="paper", yref="paper",
        showarrow=False, textangle=-90, xanchor="center", yanchor="middle",
        font=dict(family=sans, size=9.5, color="black")))

    # captions
    cap = "<b>(%s)</b> %s" % (PANEL_LETTERS[i], CAPTIONS[i])
    cap_font = dict(family=serif, size=22, color="black")
    if col == 0:
        annotations.append(dict(
            text=cap, x=195 / W, y=1 - caption_y[row] / H, xref="paper", yref="paper",
            showarrow=False, xanchor="center", yanchor="middle", font=cap_font))
    else:
        annotations.append(dict(
            text=cap, x=438 / W, y=1 - caption_y[row] / H, xref="paper", yref="paper",
            showarrow=False, xanchor="left", yanchor="middle", font=cap_font))
        annotations.append(dict(
            text="maux", x=438 / W, y=1 - (caption_y[row] + 26) / H, xref="paper", yref="paper",
            showarrow=False, xanchor="left", yanchor="middle", font=cap_font))

fig.update_layout(
    width=W, height=H,
    margin=dict(l=0, r=0, t=0, b=0),
    paper_bgcolor="white", plot_bgcolor="white",
    annotations=annotations,
    **layout
)

# the page body has a default 8px margin; remove it so the figure sits at the corner
fig.write_html("out.html", config={"displayModeBar": False},
               post_script="document.body.style.margin='0';")
